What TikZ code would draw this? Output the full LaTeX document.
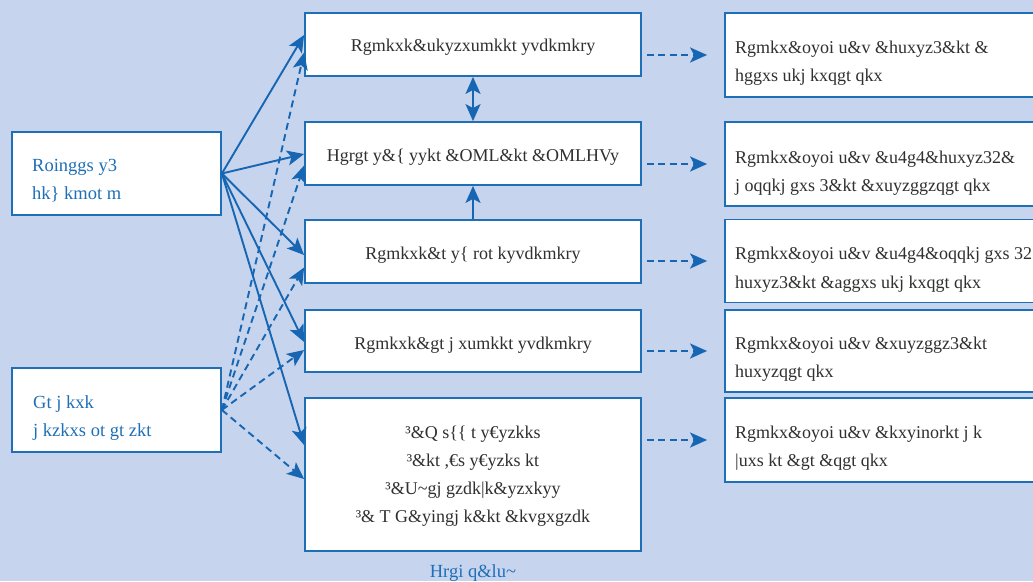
\documentclass[tikz,border=0pt]{standalone}
\usepackage{fontspec}
\setmainfont{Liberation Serif}
\usetikzlibrary{arrows.meta}
\definecolor{bg}{HTML}{C6D4ED}
\definecolor{bl}{HTML}{1F6FB7}
\definecolor{ar}{HTML}{1666B3}
\definecolor{tx}{HTML}{303030}
\tikzset{
  box/.style={draw=bl, line width=1.8pt, fill=white, inner sep=0pt},
  txt/.style={font=\fontsize{18}{28}\selectfont, text=tx, inner sep=0pt},
  btxt/.style={font=\fontsize{18.5}{28}\selectfont, text=bl, inner sep=0pt},
  tip/.tip={Stealth[length=17pt,width=15pt,inset=4pt]},
  conn/.style={draw=ar, line width=1.9pt, -tip},
  dconn/.style={conn, dash pattern=on 7pt off 4.5pt},
}
\begin{document}
\begin{tikzpicture}[x=1pt,y=-1pt]
\fill[bg] (0,0) rectangle (1033,581);
\clip (0,0) rectangle (1033,581);
\useasboundingbox (0,0) rectangle (1033,581);
% left boxes
\node[box, minimum width=209pt, minimum height=83pt] (l1) at (116.5,173.5) {};
\node[box, minimum width=209pt, minimum height=84pt] (l2) at (116.5,410) {};
% middle boxes
\node[box, minimum width=336pt, minimum height=63pt] (m1) at (473,44.5) {};
\node[box, minimum width=336pt, minimum height=63pt] (m2) at (473,153.5) {};
\node[box, minimum width=336pt, minimum height=63pt] (m3) at (473,251.5) {};
\node[box, minimum width=336pt, minimum height=62pt] (m4) at (473,341) {};
\node[box, minimum width=336pt, minimum height=153pt] (m5) at (473,474.5) {};
% right boxes
\node[box, minimum width=330pt, minimum height=84pt] (r1) at (890,55) {};
\node[box, minimum width=330pt, minimum height=84pt] (r2) at (890,164) {};
\node[box, minimum width=330pt, minimum height=83pt] (r3) at (890,261) {};
\node[box, minimum width=330pt, minimum height=82pt] (r4) at (890,351) {};
\node[box, minimum width=330pt, minimum height=84pt] (r5) at (890,440) {};
% texts
\node[btxt, anchor=base west] (l1a) at (32,171) {Roinggs y3};
\node[btxt, anchor=base west] (l1b) at (32,199) {hk\} kmot m};
\node[btxt, anchor=base west] (l2a) at (33,408) {Gt j kxk};
\node[btxt, anchor=base west] (l2b) at (33,436) {j kzkxs ot gt zkt};
\node[txt, anchor=base] (m1t) at (473,51) {Rgmkxk\&ukyzxumkkt yvdkmkry};
\node[txt, anchor=base] (m2t) at (473,161) {Hgrgt y\&\{ yykt \&OML\&kt \&OMLHVy};
\node[txt, anchor=base] (m3t) at (473,259) {Rgmkxk\&t y\{ rot kyvdkmkry};
\node[txt, anchor=base] (m4t) at (473,349) {Rgmkxk\&gt j xumkkt yvdkmkry};
\node[txt, anchor=base] (m5a) at (473,438) {³\&Q s\{\{ t y€yzkks};
\node[txt, anchor=base] (m5b) at (473,466) {³\&kt ,€s y€yzks kt};
\node[txt, anchor=base] (m5c) at (473,494) {³\&U\textasciitilde gj gzdk|k\&yzxkyy};
\node[txt, anchor=base] (m5d) at (473,522) {³\& T G\&yingj k\&kt \&kvgxgzdk};
\node[txt, anchor=base west] (r1a) at (735,53) {Rgmkx\&oyoi u\&v \&huxyz3\&kt \&};
\node[txt, anchor=base west] (r1b) at (735,81) {hggxs ukj kxqgt qkx};
\node[txt, anchor=base west] (r2a) at (735,163) {Rgmkx\&oyoi u\&v \&u4g4\&huxyz32\&};
\node[txt, anchor=base west] (r2b) at (735,191) {j oqqkj gxs 3\&kt \&xuyzggzqgt qkx};
\node[txt, anchor=base west] (r3a) at (735,259) {Rgmkx\&oyoi u\&v \&u4g4\&oqqkj gxs 32};
\node[txt, anchor=base west] (r3b) at (735,288) {huxyz3\&kt \&aggxs ukj kxqgt qkx};
\node[txt, anchor=base west] (r4a) at (735,349) {Rgmkx\&oyoi u\&v \&xuyzggz3\&kt};
\node[txt, anchor=base west] (r4b) at (735,377) {huxyzqgt qkx};
\node[txt, anchor=base west] (r5a) at (735,438) {Rgmkx\&oyoi u\&v \&kxyinorkt j k};
\node[txt, anchor=base west] (r5b) at (735,466) {|uxs kt \&gt \&qgt qkx};
\node[btxt, anchor=base] (cap) at (473,577) {Hrgi q\&lu\textasciitilde};
% solid arrows from l1
\draw[conn] (l1.east) -- ([yshift=9.5pt]m1.west);
\draw[conn] (l1.east) -- ([yshift=-0.5pt]m2.west);
\draw[conn] (l1.east) -- ([yshift=-3.5pt]m3.west);
\draw[conn] (l1.east) -- ([yshift=-1pt]m4.west);
\draw[conn] (l1.east) -- ([yshift=29.5pt]m5.west);
% dashed arrows from l2
\draw[dconn] (l2.east) -- ([yshift=-8pt]m1.west);
\draw[dconn] (l2.east) -- ([yshift=-12pt]m2.west);
\draw[dconn] (l2.east) -- ([yshift=-16pt]m3.west);
\draw[dconn] (l2.east) -- ([yshift=-9pt]m4.west);
\draw[dconn] (l2.east) -- ([yshift=-4.5pt]m5.west);
% vertical arrows
\draw[conn, tip-tip] (m1.south) -- (m2.north);
\draw[conn] (m3.north) -- (m2.south);
% dashed arrows to right boxes
\draw[dconn, shorten <=5pt, shorten >=17pt] (m1.east |- r1.west) -- (r1.west);
\draw[dconn, shorten <=5pt, shorten >=17pt] (m2.east |- r2.west) -- (r2.west);
\draw[dconn, shorten <=5pt, shorten >=17pt] (m3.east |- r3.west) -- (r3.west);
\draw[dconn, shorten <=5pt, shorten >=17pt] (m4.east |- r4.west) -- (r4.west);
\draw[dconn, shorten <=5pt, shorten >=17pt] (m5.east |- r5.west) -- (r5.west);
\end{tikzpicture}
\end{document}
